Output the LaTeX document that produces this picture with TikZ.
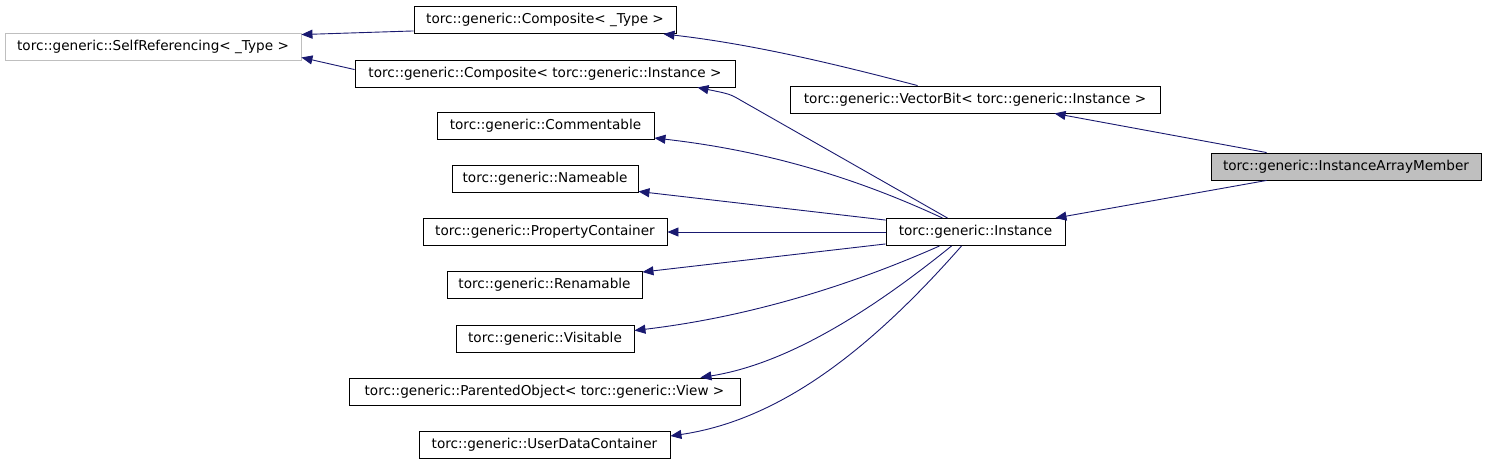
\documentclass[tikz,border=0pt]{standalone}
\usepackage{fontspec}
\setmainfont{DejaVu Sans}
\usetikzlibrary{arrows.meta,calc}
\definecolor{edgeblue}{HTML}{191970}
\definecolor{graybox}{HTML}{BFBFBF}
\begin{document}
\begin{tikzpicture}[x=1pt,y=-1pt,
  cls/.style={draw=black,line width=0.9pt,inner sep=0pt,minimum height=27pt,font=\fontsize{13.6}{16}\selectfont,text=black},
  edge/.style={draw=edgeblue,line width=0.9pt,-{Triangle[length=11pt,width=9pt,fill=edgeblue]}}]
\useasboundingbox (0,0) rectangle (1488,467);
\fill[white] (0,0) rectangle (1488,467);
\node[cls,draw=graybox,minimum width=296pt] (selfref) at (153,46.5) {torc::generic::SelfReferencing< \_Type >};
\node[cls,minimum width=262pt] (compT) at (545,20) {torc::generic::Composite< \_Type >};
\node[cls,minimum width=380pt] (compI) at (545,73.5) {torc::generic::Composite< torc::generic::Instance >};
\node[cls,minimum width=370pt] (vbit) at (975,99.5) {torc::generic::VectorBit< torc::generic::Instance >};
\node[cls,fill=graybox,minimum width=270pt] (iam) at (1346,166.5) {torc::generic::InstanceArrayMember};
\node[cls,minimum width=217pt] (comm) at (545.5,126) {torc::generic::Commentable};
\node[cls,minimum width=186pt] (name) at (545,178.5) {torc::generic::Nameable};
\node[cls,minimum width=244pt] (prop) at (545,232) {torc::generic::PropertyContainer};
\node[cls,minimum width=179pt] (inst) at (975.5,232) {torc::generic::Instance};
\node[cls,minimum width=195pt] (ren) at (544.5,285) {torc::generic::Renamable};
\node[cls,minimum width=178pt] (vis) at (545,338.5) {torc::generic::Visitable};
\node[cls,minimum width=391pt] (par) at (544.5,391.5) {torc::generic::ParentedObject< torc::generic::View >};
\node[cls,minimum width=251pt] (udc) at (544.5,445) {torc::generic::UserDataContainer};

\draw[edge] ($(compT.south west)+(0,-3)$) -- ($(selfref.north east)+(0,2)$);
\draw[edge] ($(compI.north west)+(0,10)$) -- ($(selfref.south east)+(0,-3)$);
\draw[edge] ($(vbit.north west)+(128,0)$) .. controls (850,68) and (760,45) .. ($(compT.south east)+(-13,0)$);
\draw[edge] ($(inst.north west)+(62,0)$) -- (742,101) .. controls (730,94) .. ($(compI.south east)+(-38,0)$);
\draw[edge] ($(iam.north west)+(56,0)$) -- ($(vbit.south west)+(265,0)$);
\draw[edge] ($(iam.south west)+(56,0)$) -- ($(inst.north east)+(-10,0)$);
\draw[edge] ($(inst.north west)+(57,0)$) .. controls (850,175) and (760,150) .. ($(comm.east)+(0,12)$);
\draw[edge] ($(inst.north west)+(0,2)$) -- ($(name.south east)+(0,-1)$);
\draw[edge] (inst.west) -- (prop.east);
\draw[edge] ($(inst.south west)+(0,-2)$) -- ($(ren.north east)+(0,1)$);
\draw[edge] ($(inst.south west)+(54,0)$) .. controls (840,290) and (740,318) .. ($(vis.east)+(0,-8)$);
\draw[edge] ($(inst.south west)+(66,0)$) .. controls (860,320) and (780,365) .. ($(par.north east)+(-40,0)$);
\draw[edge] ($(inst.south west)+(76,0)$) .. controls (870,350) and (780,420) .. ($(udc.east)+(0,-9)$);
\end{tikzpicture}
\end{document}
